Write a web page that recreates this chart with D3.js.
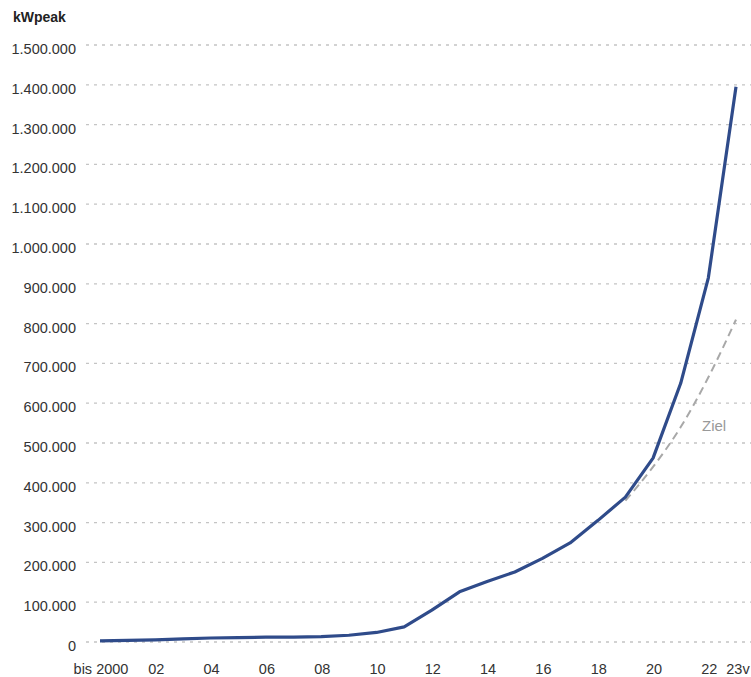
<!DOCTYPE html>
<html>
<head>
<meta charset="utf-8">
<script src="https://cdn.jsdelivr.net/npm/d3@7"></script>
<style>
  body { margin: 0; background: #fff; }
  svg { display: block; font-family: "Liberation Sans", Arial, sans-serif; }
</style>
</head>
<body>
<div id="chart"></div>
<script>
// installed capacity, kWpeak
const years = [2000, 2001, 2002, 2003, 2004, 2005, 2006, 2007, 2008, 2009, 2010, 2011,
               2012, 2013, 2014, 2015, 2016, 2017, 2018, 2019, 2020, 2021, 2022, 2023];
const capacity = [3000, 4000, 5500, 8000, 10000, 11000, 12000, 12500, 13500, 17000, 24000, 38000,
                  80000, 126000, 152000, 176000, 210000, 249000, 305000, 364000, 462000, 650000, 915000, 1395000];

// target path ("Ziel")
const targetYears = [2019, 2020, 2021, 2022, 2023];
const targetValues = [355000, 440000, 540000, 665000, 810000];

const xTickYears = [2000, 2002, 2004, 2006, 2008, 2010, 2012, 2014, 2016, 2018, 2020, 2022, 2023];
const xTickLabels = ["bis 2000", "02", "04", "06", "08", "10", "12", "14", "16", "18", "20", "22", "23v"];
const yTicks = [0, 100000, 200000, 300000, 400000, 500000, 600000, 700000, 800000,
                900000, 1000000, 1100000, 1200000, 1300000, 1400000, 1500000];

const width = 751;
const height = 677;

const xScale = d3.scaleLinear().domain([2000, 2023]).range([100, 736]);
const yScale = d3.scaleLinear().domain([0, 1500000]).range([642, 45]);

const de = d3.formatLocale({ decimal: ",", thousands: ".", grouping: [3], currency: ["", " €"] });
const fmt = de.format(",d");

const svg = d3.select("#chart").append("svg").attr("width", width).attr("height", height);

svg.append("text")
    .attr("x", 13)
    .attr("y", 22)
    .attr("font-size", "14px")
    .attr("font-weight", "bold")
    .attr("fill", "#222")
    .text("kWpeak");

// gridlines + y labels
const yAxis = svg.append("g");
yAxis.selectAll("line")
    .data(yTicks)
    .join("line")
    .attr("x1", 86)
    .attr("x2", width)
    .attr("y1", d => yScale(d))
    .attr("y2", d => yScale(d))
    .attr("stroke", "#c4c4c4")
    .attr("stroke-width", 1.3)
    .attr("stroke-dasharray", "3,5");
yAxis.selectAll("text")
    .data(yTicks)
    .join("text")
    .attr("x", 76)
    .attr("y", d => yScale(d) + 9)
    .attr("text-anchor", "end")
    .attr("font-size", "14.5px")
    .attr("fill", "#333")
    .text(d => fmt(d));

// x labels
svg.append("g").selectAll("text")
    .data(xTickYears)
    .join("text")
    .attr("x", d => xScale(d) + (d === 2023 ? 2 : 1))
    .attr("y", 674)
    .attr("text-anchor", "middle")
    .attr("font-size", "14.5px")
    .attr("fill", "#333")
    .text((d, i) => xTickLabels[i]);

// target dashed line
const targetLine = d3.line()
    .x((d, i) => xScale(targetYears[i]))
    .y(d => yScale(d))
    .curve(d3.curveMonotoneX);
svg.append("path")
    .attr("d", targetLine(targetValues))
    .attr("fill", "none")
    .attr("stroke", "#a8a8a8")
    .attr("stroke-width", 2)
    .attr("stroke-dasharray", "8,5");

svg.append("text")
    .attr("x", 702)
    .attr("y", 431)
    .attr("font-size", "15px")
    .attr("fill", "#999")
    .text("Ziel");

// main line
const line = d3.line()
    .x((d, i) => xScale(years[i]))
    .y(d => yScale(d));
svg.append("path")
    .attr("d", line(capacity))
    .attr("fill", "none")
    .attr("stroke", "#2f4b8a")
    .attr("stroke-width", 3.2)
    .attr("stroke-linejoin", "round");
</script>
</body>
</html>
